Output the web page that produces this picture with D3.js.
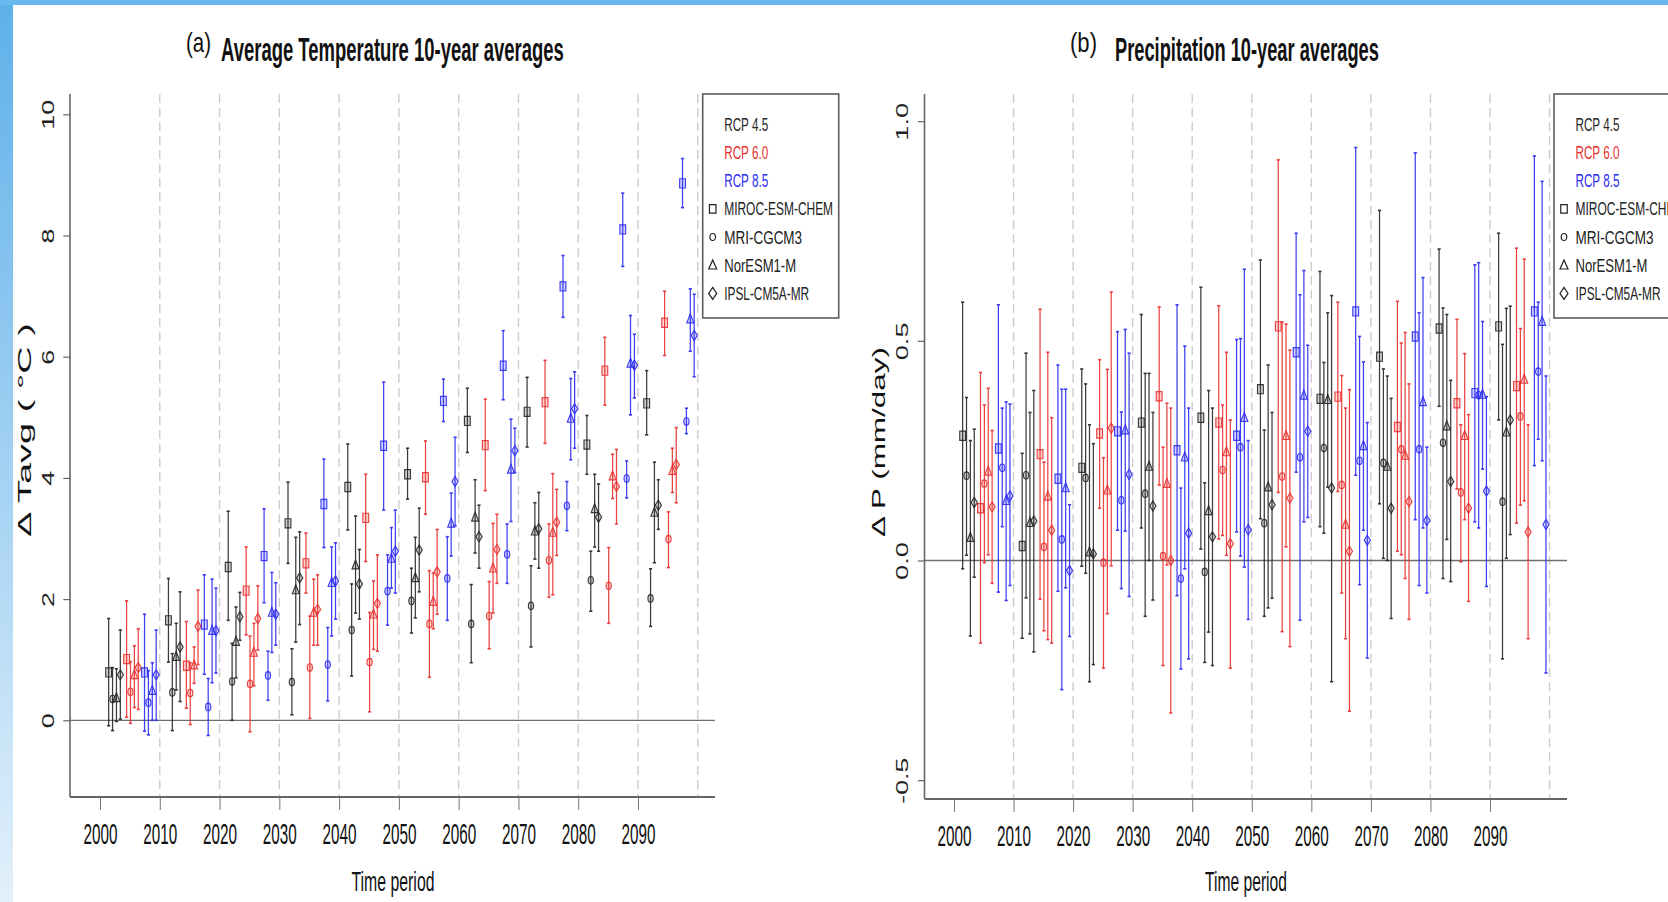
<!DOCTYPE html>
<html>
<head>
<meta charset="utf-8">
<script src="https://cdn.jsdelivr.net/npm/d3@7"></script>
<style>
  html, body { margin: 0; padding: 0; background: #fff; }
  svg { display: block; }
  text { font-family: "Liberation Sans", Arial, Helvetica, sans-serif; }
</style>
</head>
<body>
<svg id="chart" width="1668" height="902"></svg>
<script>
// ---- categories -------------------------------------------------------
const decades = [2000, 2010, 2020, 2030, 2040, 2050, 2060, 2070, 2080, 2090];
const scenarios = ["RCP 4.5", "RCP 6.0", "RCP 8.5"];
const scenarioColors = ["#262626", "#e8302e", "#2b2bf2"];
const models = ["MIROC-ESM-CHEM", "MRI-CGCM3", "NorESM1-M", "IPSL-CM5A-MR"];
const modelShapes = ["square", "circle", "triangle", "diamond"];

// ---- tick labels ------------------------------------------------------
const tavgTicks = [0, 2, 4, 6, 8, 10];
const prcpTicks = [-0.5, 0.0, 0.5, 1.0];

// ---- temperature change, one row per decade: [mean, low, high] (°C) ---
const tavg45Miroc = [[0.79,-0.09,1.68],[1.65,0.96,2.34],[2.53,1.65,3.45],[3.25,2.59,3.93],[3.85,3.14,4.56],[4.06,3.65,4.49],[4.94,4.42,5.48],[5.09,4.51,5.66],[4.55,4.06,5.03],[5.23,4.71,5.77]];
const tavg45Mri   = [[0.35,-0.17,0.87],[0.46,-0.17,1.10],[0.64,0.00,1.27],[0.63,0.09,1.18],[1.49,0.73,2.25],[1.97,1.44,2.51],[1.59,0.95,2.24],[1.89,1.21,2.55],[2.31,1.80,2.79],[2.01,1.55,2.50]];
const tavg45Nor   = [[0.37,-0.02,0.85],[1.05,0.50,1.60],[1.30,0.70,1.87],[2.15,1.29,3.02],[2.56,1.77,3.37],[2.35,1.69,3.02],[3.35,2.76,3.97],[3.12,2.66,3.59],[3.49,2.86,4.06],[3.43,2.60,4.26]];
const tavg45Ipsl  = [[0.75,0.02,1.49],[1.21,0.31,2.12],[1.71,1.32,2.11],[2.35,1.58,3.11],[2.25,1.67,2.82],[2.81,2.12,3.50],[3.03,2.51,3.55],[3.16,2.51,3.76],[3.35,2.79,3.90],[3.55,3.15,3.97]];
const tavg60Miroc = [[1.01,0.05,1.97],[0.90,0.20,1.63],[2.14,1.41,2.86],[2.59,2.10,3.09],[3.34,2.62,4.06],[4.01,3.40,4.61],[4.54,3.79,5.30],[5.25,4.57,5.94],[5.77,5.20,6.32],[6.56,6.02,7.08]];
const tavg60Mri   = [[0.47,-0.05,0.97],[0.45,-0.07,0.95],[0.60,-0.19,1.39],[0.87,0.03,1.72],[0.96,0.14,1.78],[1.59,0.71,2.47],[1.72,1.18,2.29],[2.64,2.03,3.24],[2.22,1.60,2.85],[2.99,2.52,3.44]];
const tavg60Nor   = [[0.75,0.21,1.23],[0.91,0.61,1.21],[1.12,0.57,1.60],[1.78,1.24,2.33],[1.75,1.17,2.30],[1.96,1.51,2.43],[2.51,1.77,3.25],[3.10,2.07,4.07],[4.03,3.66,4.39],[4.12,3.76,4.49]];
const tavg60Ipsl  = [[0.87,0.18,1.51],[1.55,0.92,2.15],[1.68,1.16,2.22],[1.83,1.24,2.40],[1.93,1.14,2.73],[2.45,1.75,3.15],[2.82,2.26,3.40],[3.27,2.72,3.81],[3.86,3.24,4.47],[4.22,3.59,4.83]];
const tavg85Miroc = [[0.79,-0.18,1.75],[1.58,0.76,2.40],[2.71,1.94,3.49],[3.57,2.85,4.31],[4.53,3.47,5.58],[5.27,4.93,5.63],[5.85,5.29,6.43],[7.16,6.65,7.67],[8.10,7.49,8.70],[8.86,8.46,9.27]];
const tavg85Mri   = [[0.29,-0.24,0.82],[0.22,-0.25,0.69],[0.74,0.33,1.14],[0.92,0.32,1.53],[2.13,1.57,2.73],[2.34,1.65,3.03],[2.74,2.26,3.24],[3.54,3.13,3.94],[3.99,3.67,4.28],[4.93,4.73,5.15]];
const tavg85Nor   = [[0.49,0.00,0.95],[1.48,0.62,2.33],[1.78,1.12,2.44],[2.27,1.39,2.86],[2.67,2.18,3.18],[3.25,2.71,3.75],[4.14,3.28,4.97],[4.98,4.30,5.64],[5.89,5.04,6.68],[6.62,6.09,7.12]];
const tavg85Ipsl  = [[0.75,0.00,1.49],[1.48,0.78,2.18],[1.75,1.24,2.27],[2.30,1.67,2.93],[2.79,2.10,3.47],[3.94,3.21,4.67],[4.45,4.09,4.82],[5.14,4.49,5.75],[5.86,5.32,6.37],[6.35,5.67,7.03]];

// ---- precipitation change, one row per decade: [mean, low, high] (mm/day)
const prcp45Miroc = [[0.284,-0.019,0.588],[0.033,-0.177,0.244],[0.211,-0.013,0.436],[0.314,0.074,0.560],[0.325,0.026,0.622],[0.390,0.095,0.684],[0.368,0.077,0.658],[0.464,0.129,0.797],[0.528,0.351,0.709],[0.533,0.320,0.745]];
const prcp45Mri   = [[0.193,0.012,0.371],[0.194,-0.085,0.472],[0.188,-0.029,0.402],[0.152,-0.127,0.426],[-0.026,-0.232,0.177],[0.085,-0.127,0.297],[0.256,0.062,0.451],[0.222,0.005,0.436],[0.268,-0.041,0.575],[0.134,-0.224,0.492]];
const prcp45Nor   = [[0.052,-0.172,0.273],[0.086,-0.167,0.337],[0.019,-0.276,0.309],[0.214,0.000,0.426],[0.113,-0.163,0.387],[0.167,-0.108,0.445],[0.366,0.167,0.564],[0.214,0.000,0.420],[0.306,0.048,0.560],[0.292,0.005,0.574]];
const prcp45Ipsl  = [[0.132,-0.038,0.299],[0.090,-0.208,0.387],[0.015,-0.237,0.266],[0.124,-0.090,0.337],[0.054,-0.239,0.347],[0.127,-0.086,0.337],[0.165,-0.276,0.603],[0.119,-0.132,0.369],[0.180,-0.048,0.410],[0.320,0.059,0.579]];
const prcp60Miroc = [[0.119,-0.188,0.428],[0.242,-0.088,0.572],[0.289,0.119,0.457],[0.374,0.172,0.577],[0.314,0.049,0.580],[0.533,0.155,0.912],[0.373,0.157,0.588],[0.304,0.021,0.590],[0.358,0.163,0.549],[0.397,0.085,0.711]];
const prcp60Mri   = [[0.175,-0.005,0.354],[0.031,-0.160,0.224],[-0.005,-0.245,0.234],[0.010,-0.239,0.258],[0.206,0.057,0.354],[0.191,-0.162,0.543],[0.172,-0.074,0.421],[0.253,0.013,0.495],[0.155,-0.003,0.309],[0.328,0.126,0.528]];
const prcp60Nor   = [[0.203,0.013,0.392],[0.146,-0.180,0.474],[0.160,-0.121,0.435],[0.175,-0.010,0.358],[0.247,0.012,0.474],[0.284,0.031,0.538],[0.082,-0.178,0.347],[0.239,-0.041,0.519],[0.284,0.093,0.471],[0.412,0.136,0.686]];
const prcp60Ipsl  = [[0.122,-0.052,0.296],[0.069,-0.188,0.325],[0.301,-0.012,0.611],[0.000,-0.347,0.347],[0.038,-0.245,0.320],[0.142,-0.196,0.479],[0.021,-0.343,0.389],[0.134,-0.134,0.402],[0.119,-0.093,0.332],[0.065,-0.178,0.309]];
const prcp85Miroc = [[0.255,-0.072,0.582],[0.186,-0.070,0.445],[0.294,0.069,0.521],[0.251,-0.080,0.582],[0.284,0.065,0.503],[0.474,0.201,0.745],[0.567,0.194,0.940],[0.510,0.093,0.928],[0.381,0.088,0.673],[0.567,0.216,0.921]];
const prcp85Mri   = [[0.211,0.077,0.347],[0.048,-0.294,0.390],[0.137,-0.064,0.338],[-0.041,-0.247,0.165],[0.258,0.010,0.505],[0.235,-0.136,0.605],[0.227,-0.055,0.510],[0.253,-0.057,0.564],[0.376,0.074,0.678],[0.430,0.276,0.588]];
const prcp85Nor   = [[0.136,-0.091,0.361],[0.165,-0.062,0.390],[0.297,0.067,0.526],[0.235,-0.019,0.488],[0.325,-0.015,0.663],[0.376,0.088,0.660],[0.261,0.069,0.452],[0.361,0.074,0.644],[0.378,0.208,0.544],[0.544,0.227,0.863]];
const prcp85Ipsl  = [[0.147,-0.057,0.356],[-0.023,-0.173,0.127],[0.196,-0.082,0.472],[0.062,-0.224,0.347],[0.070,-0.134,0.273],[0.294,0.098,0.490],[0.046,-0.222,0.314],[0.091,-0.074,0.258],[0.158,-0.059,0.373],[0.082,-0.256,0.420]];

const tavgSeries = [
  [tavg45Miroc, tavg45Mri, tavg45Nor, tavg45Ipsl],
  [tavg60Miroc, tavg60Mri, tavg60Nor, tavg60Ipsl],
  [tavg85Miroc, tavg85Mri, tavg85Nor, tavg85Ipsl]
];
const prcpSeries = [
  [prcp45Miroc, prcp45Mri, prcp45Nor, prcp45Ipsl],
  [prcp60Miroc, prcp60Mri, prcp60Nor, prcp60Ipsl],
  [prcp85Miroc, prcp85Mri, prcp85Nor, prcp85Ipsl]
];

// year offset of each point inside its decade: scenario blocks of 3 years,
// models stepped inside a block
const yearOffset = (s, m) => 1.45 + 3 * s + 0.65 * m;

// ---- drawing helpers --------------------------------------------------
const svg = d3.select("#chart");

// page frame: light blue strip on top and a fading strip on the left
const defs = svg.append("defs");
const grad = defs.append("linearGradient").attr("id", "sideFade")
  .attr("x1", 0).attr("y1", 0).attr("x2", 0).attr("y2", 1);
grad.append("stop").attr("offset", "0%").attr("stop-color", "#5eb0ea");
grad.append("stop").attr("offset", "100%").attr("stop-color", "#e2f0fb");
svg.append("rect").attr("width", 1668).attr("height", 902).attr("fill", "#fff");
svg.append("rect").attr("x", 0).attr("y", 0).attr("width", 13).attr("height", 902).attr("fill", "url(#sideFade)");
svg.append("rect").attr("x", 0).attr("y", 0).attr("width", 1668).attr("height", 5).attr("fill", "#68b8ee");

function shapePath(shape, w, h) {
  switch (shape) {
    case "square":
      return `M${-w/2},${-h/2}h${w}v${h}h${-w}Z`;
    case "circle":
      return `M${-w/2},0A${w/2},${h/2} 0 1 0 ${w/2},0A${w/2},${h/2} 0 1 0 ${-w/2},0Z`;
    case "triangle":
      return `M0,${-h*0.58}L${w/2},${h*0.42}L${-w/2},${h*0.42}Z`;
    default:
      return `M0,${-h/2}L${w/2},0L0,${h/2}L${-w/2},0Z`;
  }
}
const markerSize = {
  square: [5.8, 9.2], circle: [5.2, 7.6], triangle: [7.0, 9.0], diamond: [6.2, 10.2]
};
const legendSize = {
  square: [6.5, 8.5], circle: [5.6, 7.0], triangle: [8.0, 9.0], diamond: [8.0, 12.0]
};

// Narrow, tall lettering: the font size is chosen so the string runs to
// `width`, then the glyphs are stretched across the run to the look of a
// `height`-sized font. Returns the stretch factor for the transform.
function narrowText(sel, str, height, width) {
  sel.text(str).attr("font-size", height).attr("x", 0).attr("y", 0).attr("dy", 0);
  const natural = sel.node().getComputedTextLength();
  const size = height * width / natural;
  sel.attr("font-size", size);
  return height / size;
}
function placeText(sel, str, height, width, x, y, rotate) {
  const k = narrowText(sel, str, height, width);
  sel.attr("transform", `translate(${x},${y})${rotate ? " rotate(-90)" : ""} scale(1,${k})`);
  return sel;
}
function rotatedLength(str) {
  let n = 0;
  for (const c of str) n += (c === "." || c === "-") ? 8 : 15;
  return n;
}

function drawPanel(cfg) {
  const g = svg.append("g");
  const { x, y, area } = cfg;

  // dashed decade guides
  g.append("g").selectAll("line")
    .data(d3.range(2010, 2101, 10))
    .join("line")
    .attr("x1", d => x(d)).attr("x2", d => x(d))
    .attr("y1", area.top).attr("y2", area.bottom)
    .attr("stroke", "#cdcdcd").attr("stroke-width", 1.4)
    .attr("stroke-dasharray", "9,5");

  // zero reference line
  g.append("line")
    .attr("x1", area.left).attr("x2", area.right)
    .attr("y1", y(0)).attr("y2", y(0))
    .attr("stroke", "#6e6e6e").attr("stroke-width", 1.3);

  // error bars and markers
  const points = [];
  cfg.series.forEach((byModel, s) => {
    byModel.forEach((rows, m) => {
      rows.forEach((r, k) => {
        points.push({ s, m, year: decades[k] + yearOffset(s, m), mean: r[0], lo: r[1], hi: r[2] });
      });
    });
  });

  const bars = g.append("g").selectAll("g").data(points).join("g")
    .attr("stroke", d => scenarioColors[d.s])
    .attr("stroke-opacity", 0.9);
  bars.append("line")
    .attr("x1", d => x(d.year)).attr("x2", d => x(d.year))
    .attr("y1", d => y(d.lo)).attr("y2", d => y(d.hi))
    .attr("stroke-width", 1.25);
  bars.append("line")
    .attr("x1", d => x(d.year) - 1.6).attr("x2", d => x(d.year) + 1.6)
    .attr("y1", d => y(d.lo)).attr("y2", d => y(d.lo))
    .attr("stroke-width", 1.6);
  bars.append("line")
    .attr("x1", d => x(d.year) - 1.6).attr("x2", d => x(d.year) + 1.6)
    .attr("y1", d => y(d.hi)).attr("y2", d => y(d.hi))
    .attr("stroke-width", 1.6);
  bars.append("path")
    .attr("transform", d => `translate(${x(d.year)},${y(d.mean)})`)
    .attr("d", d => {
      const sh = modelShapes[d.m];
      return shapePath(sh, markerSize[sh][0], markerSize[sh][1]);
    })
    .attr("fill", d => scenarioColors[d.s])
    .attr("fill-opacity", 0.2)
    .attr("stroke-width", 1.15);

  // bottom axis
  const xAxis = g.append("g")
    .attr("transform", `translate(0,${area.bottom})`)
    .call(d3.axisBottom(x).tickValues(decades).tickSize(13).tickSizeOuter(0).tickFormat(d3.format("d")));
  xAxis.select(".domain").remove();
  xAxis.selectAll(".tick line").attr("stroke", "#777").attr("stroke-width", 1);
  xAxis.selectAll(".tick text").each(function (d) {
    placeText(d3.select(this), String(d), 30, 34, 0, cfg.xLabelBase - area.bottom)
      .attr("text-anchor", "middle")
      .attr("fill", "#111");
  });
  g.append("line")
    .attr("x1", area.left).attr("x2", area.right)
    .attr("y1", area.bottom).attr("y2", area.bottom)
    .attr("stroke", "#666").attr("stroke-width", 2);

  // left axis with rotated labels
  const yAxis = g.append("g")
    .attr("transform", `translate(${area.left},0)`)
    .call(d3.axisLeft(y).tickValues(cfg.yTicks).tickSize(6.7).tickFormat(cfg.yFormat));
  yAxis.select(".domain").remove();
  yAxis.selectAll(".tick line").attr("stroke", "#666").attr("stroke-width", 1.2);
  yAxis.selectAll(".tick text").each(function (d) {
    const str = cfg.yFormat(d);
    placeText(d3.select(this), str, 17, rotatedLength(str), -cfg.yLabelGap, 0, true)
      .attr("text-anchor", "middle")
      .attr("fill", "#222");
  });
  g.append("line")
    .attr("x1", area.left).attr("x2", area.left)
    .attr("y1", area.top).attr("y2", area.bottom)
    .attr("stroke", "#666").attr("stroke-width", 1.6);

  // axis titles
  placeText(g.append("text"), cfg.yTitle, 19, cfg.yTitleLen, cfg.yTitleX, cfg.yTitleY, true)
    .attr("text-anchor", "middle")
    .attr("fill", "#111");
  placeText(g.append("text"), "Time period", 27, cfg.xTitleLen, cfg.xTitleX, 891)
    .attr("text-anchor", "middle")
    .attr("fill", "#111");

  // panel title
  placeText(g.append("text"), cfg.tag, 28, cfg.tagLen, cfg.tagX, 52)
    .attr("fill", "#111");
  const title = g.append("text").attr("font-weight", "bold").attr("fill", "#111");
  placeText(title, cfg.title, 33, cfg.titleLen, cfg.titleX, 61);

  // legend
  const lg = g.append("g").attr("transform", `translate(${cfg.legendX},94)`);
  lg.append("rect").attr("width", 136).attr("height", 224)
    .attr("fill", "#fff").attr("stroke", "#5c5c5c").attr("stroke-width", 1.6);
  const entries = scenarios.map((t, i) => ({ text: t, color: scenarioColors[i], len: 44 }))
    .concat(models.map((t, i) => ({ text: t, color: "#222", shape: modelShapes[i], len: [109, 78, 72, 85][i] })));
  entries.forEach((e, i) => {
    const base = 36.7 + 28.2 * i;
    placeText(lg.append("text"), e.text, 18, e.len, 21.5, base)
      .attr("fill", e.color);
    if (e.shape) {
      const [w, h] = legendSize[e.shape];
      lg.append("path")
        .attr("transform", `translate(10,${base - 6.5})`)
        .attr("d", shapePath(e.shape, w, h))
        .attr("fill", "none").attr("stroke", "#222").attr("stroke-width", 1.2);
    }
  });
}

// ---- panel (a): temperature ------------------------------------------
drawPanel({
  x: d3.scaleLinear().domain([2000, 2090]).range([100, 638]),
  y: d3.scaleLinear().domain([0, 10]).range([720.3, 114.3]),
  area: { left: 70, right: 715, top: 94, bottom: 797 },
  series: tavgSeries,
  yTicks: tavgTicks,
  yFormat: d => String(d),
  yLabelGap: 16,
  yTitle: "\u0394 Tavg ( \u00b0C )", yTitleLen: 214, yTitleX: 31, yTitleY: 430,
  xTitleX: 393, xTitleLen: 83, xLabelBase: 844,
  tag: "(a)", tagX: 186, tagLen: 25,
  title: "Average Temperature 10-year averages", titleX: 221, titleLen: 343,
  legendX: 702.7
});

// ---- panel (b): precipitation ----------------------------------------
drawPanel({
  x: d3.scaleLinear().domain([2000, 2090]).range([954, 1490]),
  y: d3.scaleLinear().domain([0, 1]).range([560.5, 121.2]),
  area: { left: 924.5, right: 1567, top: 94, bottom: 799 },
  series: prcpSeries,
  yTicks: prcpTicks,
  yFormat: d => d.toFixed(1),
  yLabelGap: 17,
  yTitle: "\u0394 P  (mm/day)", yTitleLen: 190, yTitleX: 885, yTitleY: 442,
  xTitleX: 1246, xTitleLen: 82, xLabelBase: 846,
  tag: "(b)", tagX: 1070, tagLen: 27,
  title: "Precipitation 10-year averages", titleX: 1115, titleLen: 264,
  legendX: 1554
});
</script>
</body>
</html>
